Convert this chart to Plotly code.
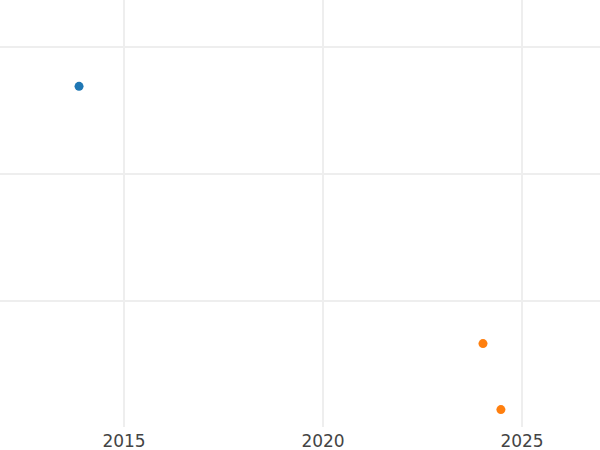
import plotly.graph_objects as go

series_a_x = [2013.87]
series_a_y = [26.9]
series_b_x = [2024.02, 2024.47]
series_b_y = [6.65, 1.45]
x_ticks = [2015, 2020, 2025]

fig = go.Figure()
fig.add_trace(go.Scatter(x=series_a_x, y=series_a_y, mode="markers",
                         marker=dict(color="#1f77b4", size=9), showlegend=False))
fig.add_trace(go.Scatter(x=series_b_x, y=series_b_y, mode="markers",
                         marker=dict(color="#ff7f0e", size=9), showlegend=False))

fig.update_layout(
    width=600, height=450,
    margin=dict(l=0, r=0, t=0, b=23, pad=0),
    plot_bgcolor="white", paper_bgcolor="white",
    font=dict(family="DejaVu Sans", size=17, color="#444"),
)
fig.update_xaxes(range=[2011.884, 2026.96], tickvals=x_ticks,
                 ticktext=[str(t) for t in x_ticks], ticklabelstandoff=2,
                 showgrid=True, gridcolor="#eeeeee", gridwidth=2,
                 zeroline=False, showline=False, ticks="", automargin=False)
fig.update_yaxes(range=[0.08, 33.7], tickvals=[10, 20, 30],
                 showticklabels=False, showgrid=True, gridcolor="#eeeeee", gridwidth=2,
                 zeroline=False, showline=False, ticks="", automargin=False)

fig.write_html("out.html", config={"displayModeBar": False},
               post_script="document.body.style.margin='0';")
